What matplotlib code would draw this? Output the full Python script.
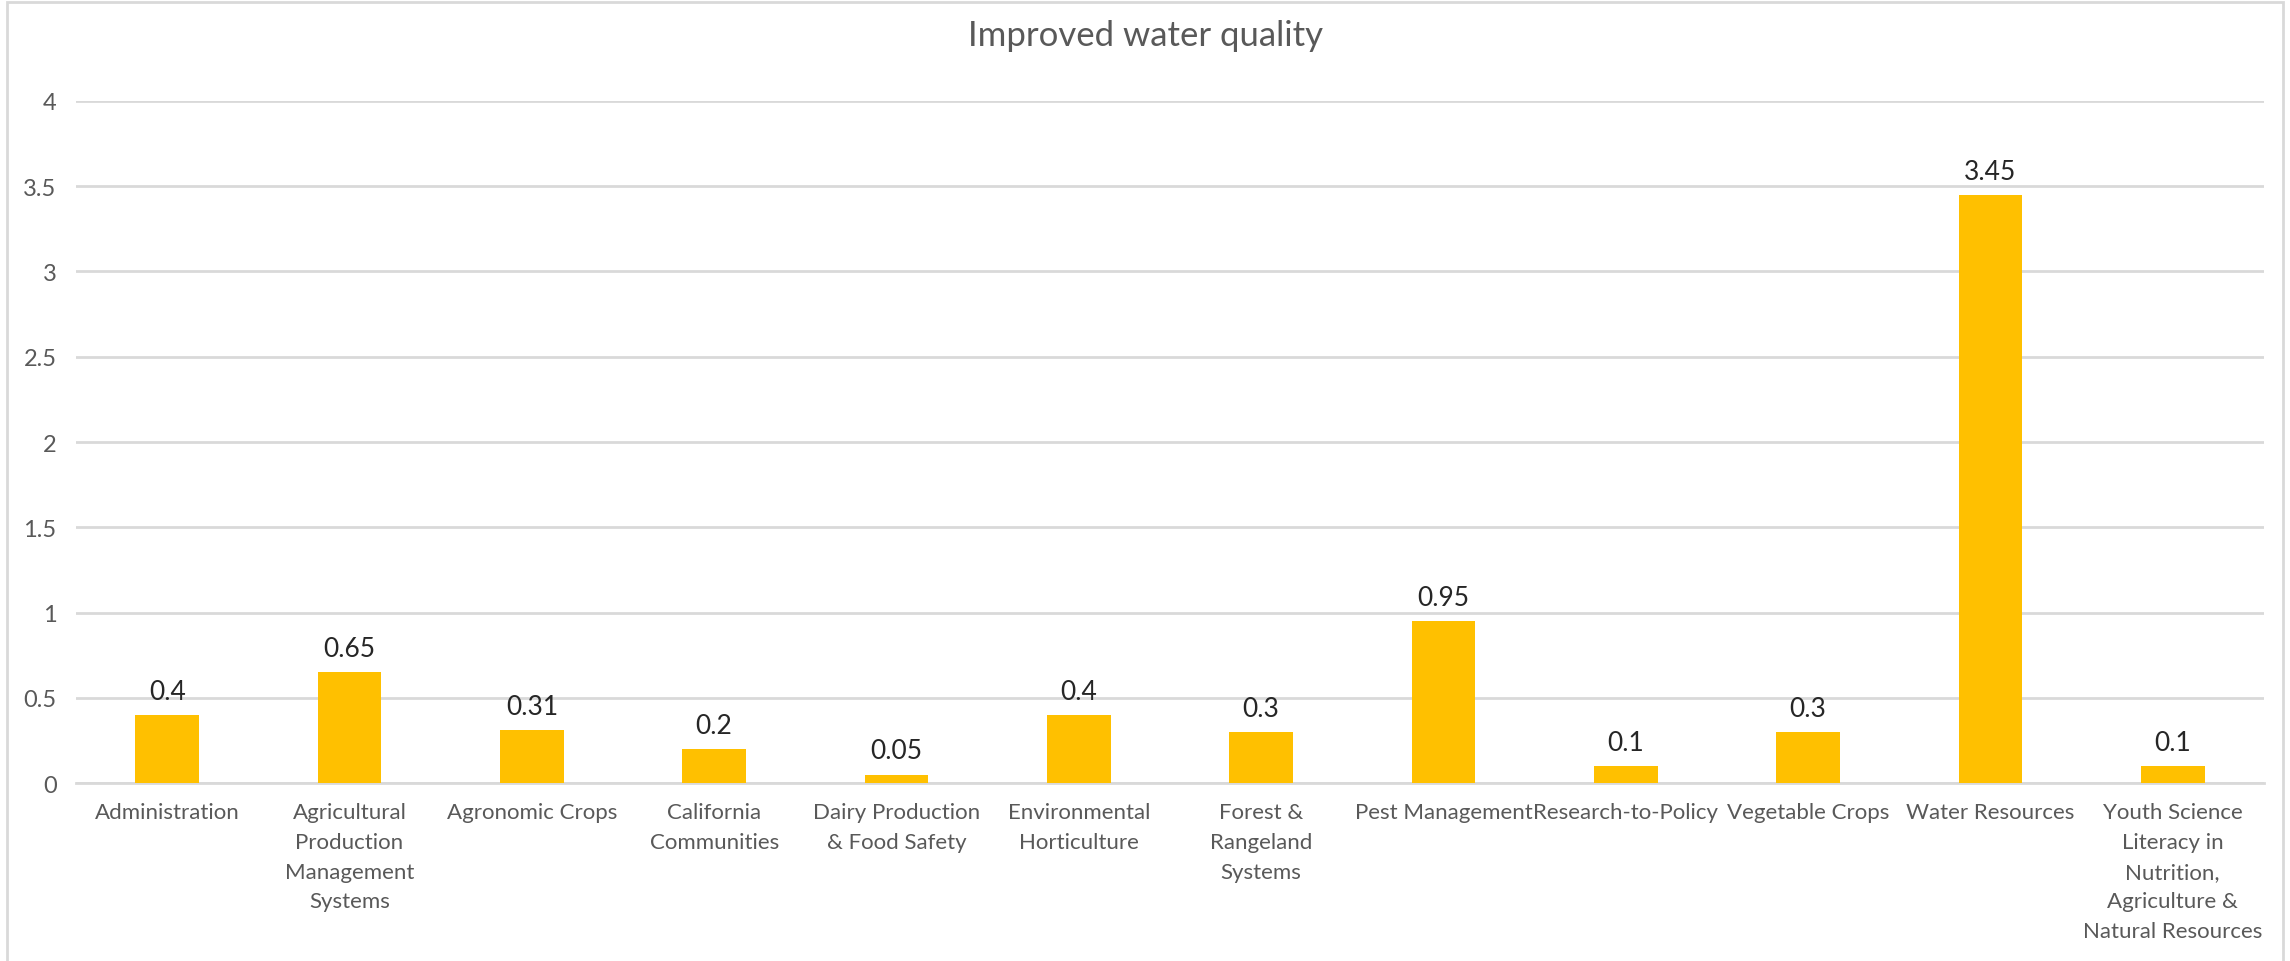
import matplotlib
matplotlib.use("Agg")
import matplotlib.pyplot as plt
from matplotlib.patches import Rectangle

categories = [
    "Administration",
    "Agricultural\nProduction\nManagement\nSystems",
    "Agronomic Crops",
    "California\nCommunities",
    "Dairy Production\n& Food Safety",
    "Environmental\nHorticulture",
    "Forest &\nRangeland\nSystems",
    "Pest Management",
    "Research-to-Policy",
    "Vegetable Crops",
    "Water Resources",
    "Youth Science\nLiteracy in\nNutrition,\nAgriculture &\nNatural Resources",
]
values = [0.4, 0.65, 0.31, 0.2, 0.05, 0.4, 0.3, 0.95, 0.1, 0.3, 3.45, 0.1]
value_labels = ["0.4", "0.65", "0.31", "0.2", "0.05", "0.4", "0.3", "0.95", "0.1", "0.3", "3.45", "0.1"]
yticks = [0, 0.5, 1, 1.5, 2, 2.5, 3, 3.5, 4]
ytick_labels = ["0", "0.5", "1", "1.5", "2", "2.5", "3", "3.5", "4"]

plt.rcParams['font.family'] = ['Lato', 'DejaVu Sans']

fig = plt.figure(figsize=(22.9, 9.62), dpi=100)
ax = fig.add_axes([0.0332, 0.185, 0.9554, 0.709])

x = list(range(len(categories)))
ax.bar(x, values, width=0.35, color="#FFC000", zorder=3)

for xi, v, lab in zip(x, values, value_labels):
    ax.annotate(lab, (xi, v), xytext=(0, 8), textcoords="offset points",
                ha="center", va="bottom", fontsize=19, color="#262626")

ax.set_xlim(-0.5, len(categories) - 0.5)
ax.set_ylim(0, 4)
ax.set_yticks(yticks)
ax.set_yticklabels(ytick_labels)
ax.set_xticks(x)
ax.set_xticklabels(categories, linespacing=1.6)
ax.tick_params(axis="both", length=0, labelsize=16, labelcolor="#595959")
ax.tick_params(axis="y", labelsize=17, pad=14)
ax.tick_params(axis="x", pad=14)
ax.yaxis.grid(True, color="#D9D9D9", linewidth=2, zorder=0)
for s in ["top", "right", "left"]:
    ax.spines[s].set_visible(False)
ax.spines["bottom"].set_color("#D9D9D9")
ax.spines["bottom"].set_linewidth(2)

fig.text(0.5, 0.963, "Improved water quality", ha="center", va="center",
         fontsize=25, color="#595959")

fig.patches.append(Rectangle((0.003, -0.01), 0.994, 1.007, transform=fig.transFigure,
                             fill=False, edgecolor="#D9D9D9", linewidth=2))

fig.savefig("out.png", dpi=100)
